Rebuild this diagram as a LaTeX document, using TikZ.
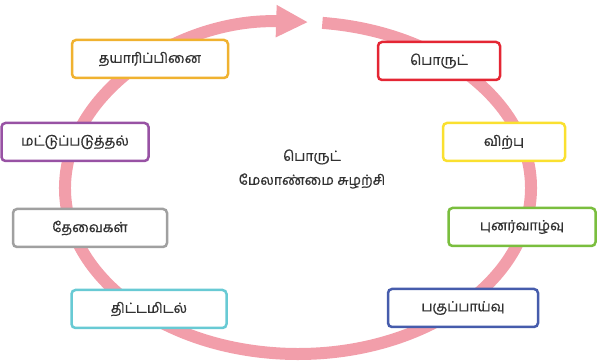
\documentclass[tikz,border=0pt]{standalone}
\usepackage{fontspec}
\usepackage{tikz}
\usetikzlibrary{arrows.meta,positioning}
\newfontfamily\tamilfont[Script=Tamil, FakeBold=0.8]{Hind Madurai}
\definecolor{RingPink}{RGB}{242, 158, 170}
\definecolor{BoxOrange}{RGB}{240, 178, 48}
\definecolor{BoxRed}{RGB}{228, 38, 52}
\definecolor{BoxPurple}{RGB}{152, 82, 164}
\definecolor{BoxYellow}{RGB}{250, 224, 48}
\definecolor{BoxGray}{RGB}{160, 160, 160}
\definecolor{BoxGreen}{RGB}{122, 190, 62}
\definecolor{BoxCyan}{RGB}{104, 202, 212}
\definecolor{BoxBlue}{RGB}{70, 92, 172}
\definecolor{TextGray}{RGB}{50, 50, 50}

\begin{document}
\begin{tikzpicture}[x=1pt, y=1pt,
    stage/.style={draw, line width=2.5pt, fill=white, rounded corners=4pt,
      minimum height=38pt, inner sep=2pt, text=TextGray,
      font=\tamilfont\fontsize{14}{16}\selectfont}]
    \useasboundingbox (0,0) rectangle (598,364);

    % Cycle ring
    \draw[RingPink, line width=12pt, -{Triangle[width=30pt,length=32pt]}]
      (298,176) ++(84:233 and 166)
      arc[start angle=84, end angle=-272.5, x radius=233, y radius=166];

    % Centre title
    \node[text=TextGray, font=\tamilfont\fontsize{14}{16}\selectfont, align=center]
      (title) at (312,195) {பொருட்\\[8pt]மேலாண்மை சுழற்சி};

    % Stages
    \foreach \name/\pos/\boxw/\col/\txt in {
        product/{(439,303)}/122/BoxRed/பொருட்,
        sale/{(504,222)}/122/BoxYellow/விற்பு,
        renew/{(522,137)}/147/BoxGreen/புனர்வாழ்வு,
        analysis/{(463,56)}/150/BoxBlue/பகுப்பாய்வு,
        planning/{(149,55)}/155/BoxCyan/திட்டமிடல்,
        needs/{(90,136)}/154/BoxGray/தேவைகள்,
        limits/{(75,222)}/147/BoxPurple/மட்டுப்படுத்தல்,
        making/{(150,305)}/156/BoxOrange/தயாரிப்பினை} {
      \node[stage, draw=\col, minimum width=\boxw pt] (\name) at \pos {\txt};
    }
\end{tikzpicture}
\end{document}
